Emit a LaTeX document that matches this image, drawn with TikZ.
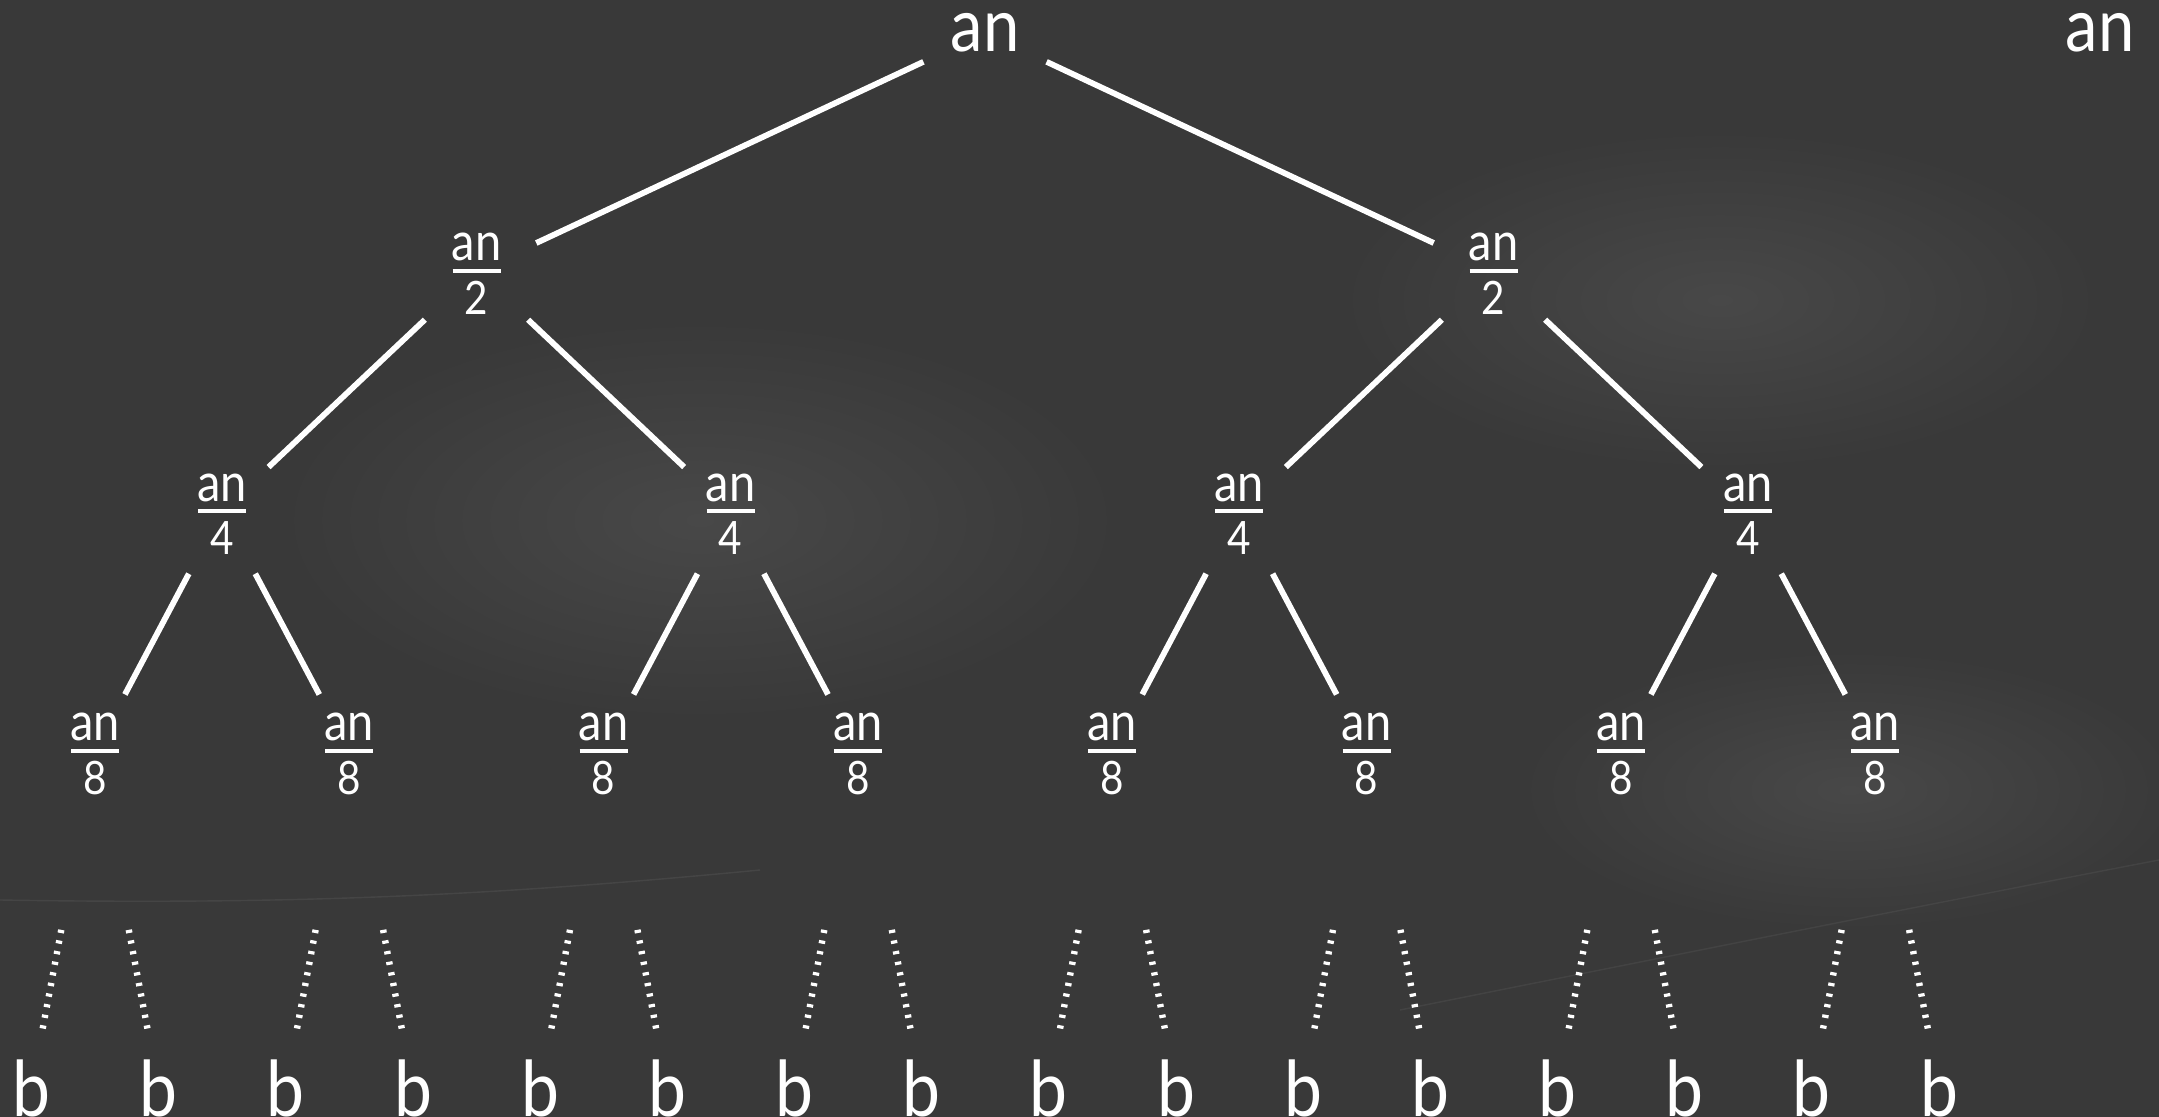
\documentclass[tikz,border=0pt]{standalone}
\usepackage{fontspec}
\setmainfont[FakeStretch=0.88]{Lato}
\definecolor{board}{RGB}{57,57,57}
\definecolor{smudge}{RGB}{72,72,72}
\definecolor{streak}{RGB}{100,100,100}
\newcommand\frc[1]{\hbox{%
  \vrule width0pt height22pt depth22pt
  \makebox[0pt]{\raisebox{5pt}{\fontsize{26.7}{27}\selectfont an}}%
  \makebox[0pt]{\raisebox{-0.875pt}{\rule{24pt}{1.75pt}}}%
  \makebox[0pt]{\raisebox{-22pt}{\fontsize{23}{23}\selectfont #1}}}}
\begin{document}
\begin{tikzpicture}[x=0.5pt,y=-0.5pt,
  lbl/.style={text=white, inner sep=0pt, font=\fontsize{37}{38}\selectfont},
  fracnode/.style={text=white, inner sep=0pt},
  bleaf/.style={text=white, inner sep=0pt, font=\fontsize{38.5}{40}\selectfont},
  edge/.style={draw=white, line width=2.9pt},
  topedge/.style={edge, shorten <=34pt, shorten >=33pt},
  midedge/.style={edge, shorten <=35.5pt, shorten >=32pt},
  dotedge/.style={draw=white, line width=3.2pt, dash pattern=on 1.6pt off 3.8pt,
                  shorten <=91pt, shorten >=26.5pt},
  blob/.style={inner color=smudge, outer color=board}]
% board
\fill[board] (0,0) rectangle (2159,1117);
\useasboundingbox (0,0) rectangle (2159,1117);
\shade[blob] (1720,300) ellipse (380 and 170);
\shade[blob] (1850,790) ellipse (330 and 140);
\shade[blob] (700,520) ellipse (420 and 200);
\draw[streak, opacity=0.3, line width=0.7pt] (0,900) .. controls (300,905) and (500,895) .. (760,870);
\draw[streak, opacity=0.25, line width=0.7pt] (1400,1010) .. controls (1700,950) and (1950,900) .. (2159,860);
% nodes
\node[lbl] (root) at (985,33) {an};
\node[lbl] (cost) at (2100,33) {an};
\node[fracnode] (h1) at (476.5,271) {\frc{2}};
\node[fracnode] (h2) at (1493.5,271) {\frc{2}};
\foreach \i/\d in {1/0,2/1,3/2,4/3}{
  \pgfmathsetmacro\xx{222+508.67*\d}
  \node[fracnode] (q\i) at (\xx,511) {\frc{4}};
}
\foreach \i/\d in {1/0,2/1,3/2,4/3,5/4,6/5,7/6,8/7}{
  \pgfmathsetmacro\xx{95+254.33*\d}
  \node[fracnode] (e\i) at (\xx,751) {\frc{8}};
}
\foreach \j/\d in {1/0,2/1,3/2,4/3,5/4,6/5,7/6,8/7,9/8,10/9,11/10,12/11,13/12,14/13,15/14,16/15}{
  \pgfmathsetmacro\xx{31.5+127.17*\d}
  \node[bleaf] (b\j) at (\xx,1088) {b};
}
% edges
\draw[topedge] (root.center) -- (h1.center);
\draw[topedge] (root.center) -- (h2.center);
\draw[midedge] (h1.center) -- (q1.center);
\draw[midedge] (h1.center) -- (q2.center);
\draw[midedge] (h2.center) -- (q3.center);
\draw[midedge] (h2.center) -- (q4.center);
\foreach \p/\a/\b in {1/1/2,2/3/4,3/5/6,4/7/8}{
  \draw[midedge] (q\p.center) -- (e\a.center);
  \draw[midedge] (q\p.center) -- (e\b.center);
}
\foreach \p/\a/\b in {1/1/2,2/3/4,3/5/6,4/7/8,5/9/10,6/11/12,7/13/14,8/15/16}{
  \draw[dotedge] (e\p.center) -- (b\a.center);
  \draw[dotedge] (e\p.center) -- (b\b.center);
}
\end{tikzpicture}
\end{document}
